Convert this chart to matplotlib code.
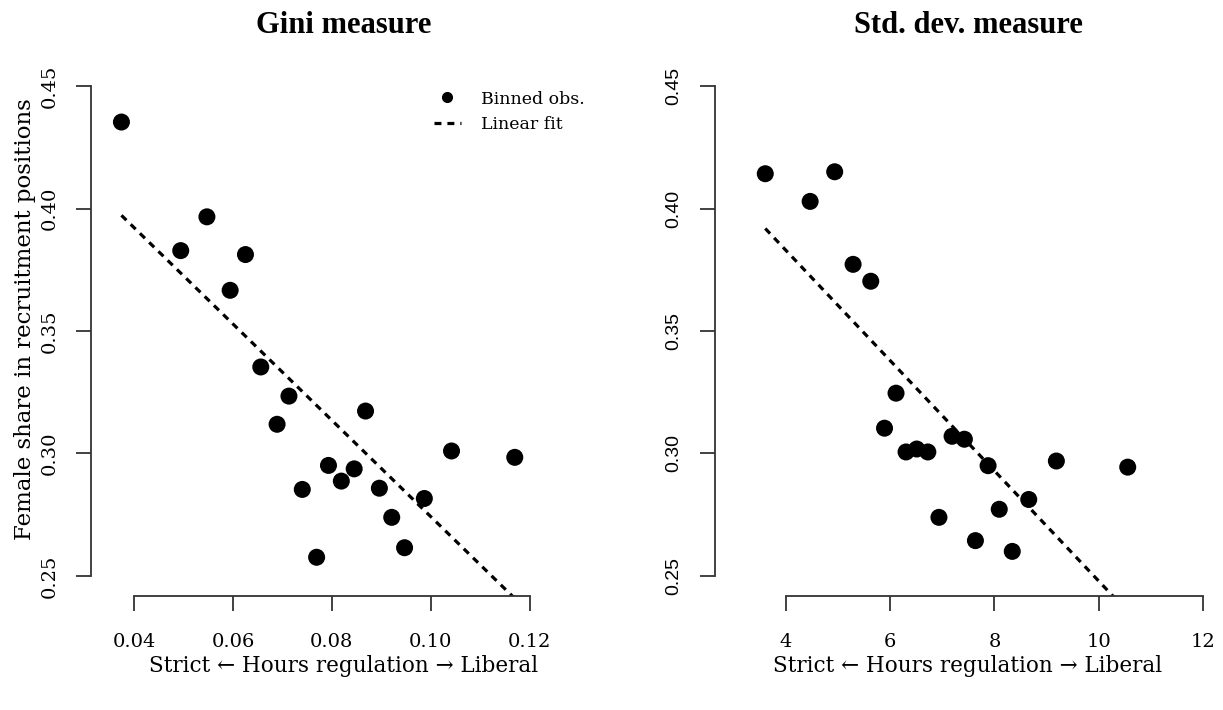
import matplotlib
matplotlib.use("Agg")
import matplotlib.pyplot as plt
from matplotlib.lines import Line2D
import numpy as np

plt.rcParams['font.family'] = ['DejaVu Serif']
plt.rcParams['lines.scale_dashes'] = False

# binned observations, Gini measure panel
gini_x = [0.0374, 0.0494, 0.0547, 0.0594, 0.0625, 0.0656, 0.0713, 0.0689, 0.0868, 0.0740,
          0.0793, 0.0819, 0.0845, 0.0769, 0.0896, 0.0921, 0.0947, 0.0987, 0.1042, 0.1170]
gini_y = [0.4353, 0.3828, 0.3966, 0.3666, 0.3812, 0.3353, 0.3234, 0.3119, 0.3173, 0.2853,
          0.2951, 0.2887, 0.2937, 0.2576, 0.2858, 0.2739, 0.2615, 0.2816, 0.3010, 0.2984]
gini_fit = (0.4707, -1.965)   # intercept, slope

# binned observations, std. dev. measure panel
sd_x = [3.603, 4.464, 4.935, 5.288, 5.627, 6.112, 5.891, 6.304, 6.509, 6.722,
        7.187, 7.423, 7.878, 6.935, 7.635, 8.092, 8.342, 8.658, 9.188, 10.557]
sd_y = [0.4142, 0.4029, 0.4150, 0.3772, 0.3703, 0.3246, 0.3103, 0.3006, 0.3018, 0.3006,
        0.3070, 0.3058, 0.2950, 0.2739, 0.2644, 0.2772, 0.2600, 0.2812, 0.2969, 0.2944]
sd_fit = (0.4729, -0.0225)

y_ticks = [0.25, 0.30, 0.35, 0.40, 0.45]
gini_ticks = [0.04, 0.06, 0.08, 0.10, 0.12]
sd_ticks = [4, 6, 8, 10, 12]

titles = ["Gini measure", "Std. dev. measure"]
xlab = "Strict \u2190 Hours regulation \u2192 Liberal"
ylab = "Female share in recruitment positions"

fig = plt.figure(figsize=(12.23, 7.10), dpi=100)
ax1 = fig.add_axes([0.0744, 0.1606, 0.4137, 0.7465])
ax2 = fig.add_axes([0.5846, 0.1606, 0.4137, 0.7465])

dash = (0, (5.0, 4.3))
ink = '#333333'


def panel(ax, x, y, fit, xticks, xlim, title, yfont, ysize):
    ax.scatter(x, y, s=150, color='black', edgecolors='none', zorder=3)
    xs = np.array([min(x), max(x)])
    ax.plot(xs, fit[0] + fit[1] * xs, color='black', lw=2.3, linestyle=dash)
    ax.set_xlim(*xlim)
    ax.set_ylim(0.2418, 0.4582)
    for s in ['top', 'right']:
        ax.spines[s].set_visible(False)
    ax.spines['left'].set_bounds(0.25, 0.45)
    ax.spines['bottom'].set_bounds(xticks[0], xticks[-1])
    for s in ['left', 'bottom']:
        ax.spines[s].set_color(ink)
        ax.spines[s].set_linewidth(1.3)
    ax.set_xticks(xticks)
    ax.set_yticks(y_ticks)
    ax.set_yticklabels(['%.2f' % v for v in y_ticks], rotation=90, va='center',
                       family=yfont, fontsize=ysize)
    if isinstance(xticks[0], float):
        ax.set_xticklabels(['%.2f' % v for v in xticks])
    ax.tick_params(length=10.5, width=1.3, color=ink, labelsize=14)
    ax.tick_params(axis='x', pad=16)
    ax.tick_params(axis='y', pad=13)
    ax.set_title(title, fontsize=22, fontweight='bold', pad=24,
                 family='Liberation Serif')
    ax.set_xlabel(xlab, fontsize=15.5)
    ax.xaxis.set_label_coords(0.5, -0.133)
    ax.xaxis.label.set_va('center')


panel(ax1, gini_x, gini_y, gini_fit, gini_ticks, (0.03124, 0.13363), titles[0],
      'DejaVu Serif', 14)
panel(ax2, sd_x, sd_y, sd_fit, sd_ticks, (2.638, 12.345), titles[1],
      'Liberation Sans', 16)

ax1.set_ylabel(ylab, fontsize=16.5)
ax1.yaxis.set_label_coords(-0.13, 0.522)
ax1.yaxis.label.set_va('center')

handles = [Line2D([], [], marker='o', color='black', linestyle='none', markersize=7),
           Line2D([], [], color='black', lw=2.3, linestyle=dash)]
ax1.legend(handles, ["Binned obs.", "Linear fit"], loc='upper left',
           bbox_to_anchor=(0.66, 0.97), frameon=False, fontsize=12.5,
           handlelength=1.55, handletextpad=1.2, borderpad=0, labelspacing=0.5)

fig.savefig("out.png", dpi=100)
